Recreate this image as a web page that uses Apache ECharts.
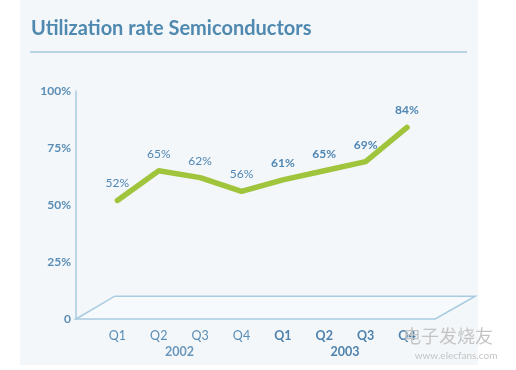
<!DOCTYPE html>
<html>
<head>
<meta charset="utf-8">
<script src="https://cdn.jsdelivr.net/npm/echarts@6/dist/echarts.min.js"></script>
<style>html,body{margin:0;padding:0;background:#fff}#c{width:516px;height:370px}</style>
</head>
<body>
<div id="c"></div>
<script>
const titleText = 'Utilization rate Semiconductors';
const quarters = ['Q1','Q2','Q3','Q4','Q1','Q2','Q3','Q4'];
const quarterYear = [0,0,0,0,1,1,1,1];
const years = ['2002','2003'];
const utilization = [52,65,62,56,61,65,69,84];
const yTicks = [0,25,50,75,100];

const FONT = 'Lato, "Open Sans", sans-serif';
const TXT = '#5a8db5';
const chart = echarts.init(document.getElementById('c'));

const cats = [''].concat(quarters);
const seriesData = ['-'].concat(utilization.map((v,i)=>({
  value: v,
  label: { fontWeight: quarterYear[i] === 1 ? 'bold' : 'normal' }
})));

chart.setOption({
  backgroundColor: '#ffffff',
  animation: false,
  title: {
    text: titleText, left: 26, top: 14,
    textStyle: { fontFamily: FONT, fontSize: 20, fontWeight: 'bold', color: '#5089b0' }
  },
  grid: { left: 76, top: 91, bottom: 51, right: 109, containLabel: false },
  xAxis: {
    type: 'category', data: cats, boundaryGap: false,
    axisLine: { show: false }, axisTick: { show: false },
    axisLabel: {
      interval: 0, margin: 10, fontFamily: FONT, fontSize: 12, color: TXT,
      formatter: (v, idx) => {
        if (idx === 0) return '';
        return quarterYear[idx-1] === 1 ? '{b|' + v + '}' : '{n|' + v + '}';
      },
      rich: {
        n: { fontFamily: FONT, fontSize: 12.5, color: TXT, fontWeight: 'normal' },
        b: { fontFamily: FONT, fontSize: 12.5, color: '#4f82ad', fontWeight: 'bold' }
      }
    },
    splitLine: { show: false }
  },
  yAxis: {
    type: 'value', min: yTicks[0], max: yTicks[yTicks.length-1], interval: 25,
    axisLine: { show: true, lineStyle: { color: '#a9cbe0', width: 1.5 } },
    axisTick: { show: false },
    splitLine: { show: false },
    axisLabel: {
      margin: 5, fontFamily: FONT, fontSize: 12, color: TXT, fontWeight: 'bold',
      formatter: v => v === 0 ? '0' : v + '%'
    }
  },
  series: [{
    type: 'line', data: seriesData, symbol: 'circle', symbolSize: 2, showSymbol: true,
    itemStyle: { color: '#a0c43c' },
    lineStyle: { color: '#a0c43c', width: 5.5, cap: 'round', join: 'round' },
    label: {
      show: true, position: 'top', distance: 10,
      fontFamily: FONT, fontSize: 12, color: '#4f86b3',
      formatter: p => p.value + '%'
    },
    z: 5
  }]
});

const px = i => chart.convertToPixel({ gridIndex: 0 }, [i, 0]);
const y0 = px(0)[1];
const xL = px(0)[0];
const step = px(2)[0] - px(1)[0];
const xLast = px(quarters.length)[0];
const yTop = chart.convertToPixel({ gridIndex: 0 }, [0, 10])[1];
const depth = y0 - yTop;

const yearX = [ (px(2)[0] + px(3)[0]) / 2, (px(6)[0] + px(7)[0]) / 2 ];

chart.setOption({
  graphic: [
    { type: 'rect', id: 'panel', z: -10, shape: { x: 20, y: 0, width: 458, height: 365 },
      style: { fill: '#f3f7fa' } },
    { type: 'line', id: 'underline', z: -5, shape: { x1: 30, y1: 52, x2: 467, y2: 52 },
      style: { stroke: '#a6c9dc', lineWidth: 1.5 } },
    { type: 'polygon', id: 'floor', z: -5,
      shape: { points: [[xL, y0], [xL + depth * 1.7, y0 - depth], [xLast + step * 1.65, y0 - depth], [xLast + step * 0.68, y0]] },
      style: { fill: '#f6fafc', stroke: '#a9cbe0', lineWidth: 1.5 } },
    { type: 'text', id: 'y2002', x: yearX[0], y: y0 + 33,
      style: { text: years[0], fontFamily: FONT, fontSize: 12.5, fontWeight: 'bold', fill: '#6a97bb', align: 'center', verticalAlign: 'middle' } },
    { type: 'text', id: 'y2003', x: yearX[1], y: y0 + 33,
      style: { text: years[1], fontFamily: FONT, fontSize: 12.5, fontWeight: 'bold', fill: '#4f82ad', align: 'center', verticalAlign: 'middle' } },
    { type: 'text', id: 'wm1', x: 448, y: 336, z: 10,
      style: { text: '电子发烧友', fontFamily: '"Noto Sans CJK SC"', fontSize: 18, fill: '#c4c4c4', align: 'center', verticalAlign: 'middle' } },
    { type: 'text', id: 'wm2', x: 456, y: 356, z: 10,
      style: { text: 'www.elecfans.com', fontFamily: FONT, fontSize: 10, fill: '#c4c4c4', align: 'center', verticalAlign: 'middle' } }
  ]
});
</script>
</body>
</html>
